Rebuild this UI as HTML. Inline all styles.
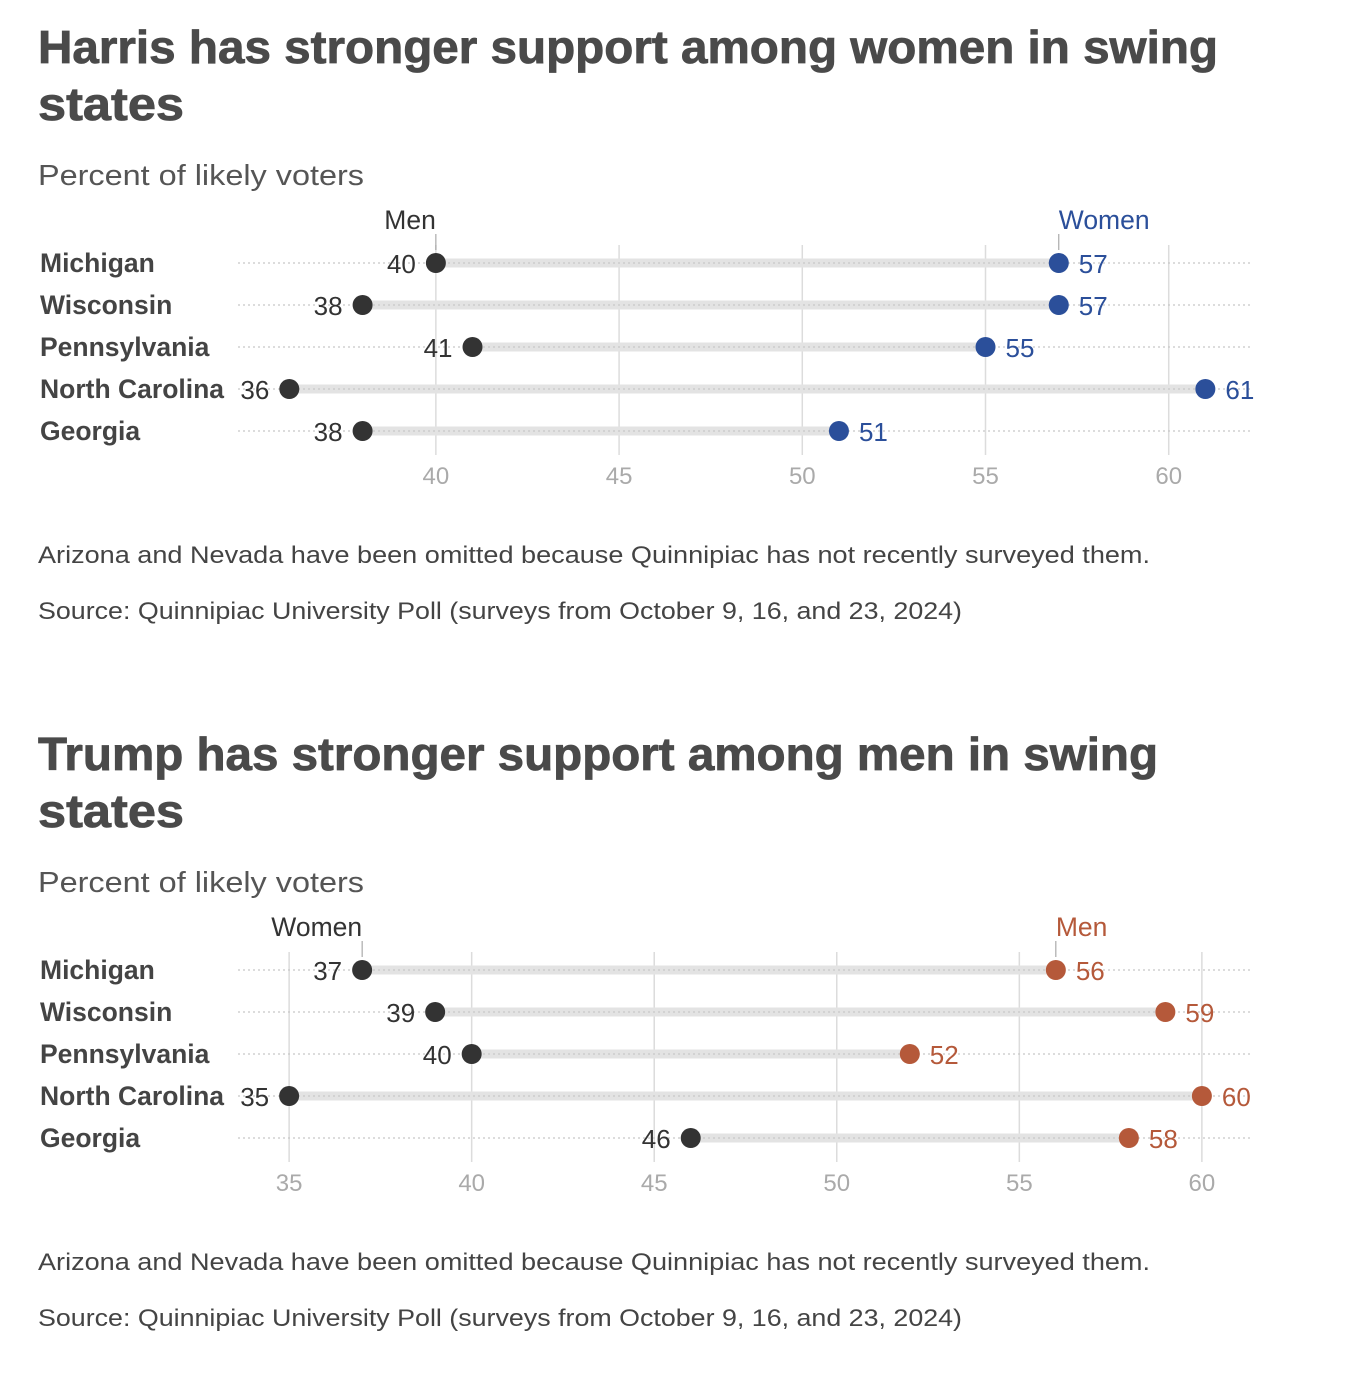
<!DOCTYPE html>
<html><head><meta charset="utf-8"><style>
html,body{margin:0;padding:0;background:#fff;}
svg{display:block;font-family:"Liberation Sans",sans-serif;}
</style></head><body>
<svg id="s" width="1365" height="1380" viewBox="0 0 1365 1380" xmlns="http://www.w3.org/2000/svg">
<g fill="#4a4a4a">
<text x="38" y="63" font-size="46" font-weight="bold" stroke="#4a4a4a" stroke-width="0.8" textLength="1180" lengthAdjust="spacingAndGlyphs">Harris has stronger support among women in swing</text>
<text x="38" y="120" font-size="46" font-weight="bold" stroke="#4a4a4a" stroke-width="0.8" textLength="146" lengthAdjust="spacingAndGlyphs">states</text>
<text x="38" y="185" font-size="29" fill="#555" textLength="326" lengthAdjust="spacingAndGlyphs">Percent of likely voters</text>
</g>
<g fill="#4a4a4a">
<text x="38" y="770" font-size="46" font-weight="bold" stroke="#4a4a4a" stroke-width="0.8" textLength="1120" lengthAdjust="spacingAndGlyphs">Trump has stronger support among men in swing</text>
<text x="38" y="827" font-size="46" font-weight="bold" stroke="#4a4a4a" stroke-width="0.8" textLength="146" lengthAdjust="spacingAndGlyphs">states</text>
<text x="38" y="892" font-size="29" fill="#555" textLength="326" lengthAdjust="spacingAndGlyphs">Percent of likely voters</text>
</g>
<g fill="#444" font-size="24">
<text x="38" y="563" textLength="1112" lengthAdjust="spacingAndGlyphs">Arizona and Nevada have been omitted because Quinnipiac has not recently surveyed them.</text>
<text x="38" y="619" textLength="924" lengthAdjust="spacingAndGlyphs">Source: Quinnipiac University Poll (surveys from October 9, 16, and 23, 2024)</text>
<text x="38" y="1270" textLength="1112" lengthAdjust="spacingAndGlyphs">Arizona and Nevada have been omitted because Quinnipiac has not recently surveyed them.</text>
<text x="38" y="1326" textLength="924" lengthAdjust="spacingAndGlyphs">Source: Quinnipiac University Poll (surveys from October 9, 16, and 23, 2024)</text>
</g>
</svg>
<script>
const states = ["Michigan","Wisconsin","Pennsylvania","North Carolina","Georgia"];
const harrisMen = [40,38,41,36,38];
const harrisWomen = [57,57,55,61,51];
const harrisTicks = [40,45,50,55,60];
const trumpWomen = [37,39,40,35,46];
const trumpMen = [56,59,52,60,58];
const trumpTicks = [35,40,45,50,55,60];

const NS = "http://www.w3.org/2000/svg";
const svg = document.getElementById('s');
function mk(tag, attrs, parent, txt){
  const e = document.createElementNS(NS, tag);
  for (const k in attrs) e.setAttribute(k, attrs[k]);
  if (txt !== undefined) e.textContent = txt;
  parent.appendChild(e);
  return e;
}
function chart(prefix, dy, lowVals, highVals, ticks, x0val, x1val, lowName, highName, highColor){
  const xs = v => 238 + (v - x0val) / (x1val - x0val) * (1253 - 238);
  const g = mk('g', {}, svg);
  
  
  const ys = i => 263 + dy + i * 42;
  ticks.forEach(t => {
    const l = mk('line', {x1: xs(t), x2: xs(t), y1: 245 + dy, y2: 455 + dy, stroke: '#dcdcdc', 'stroke-width': 1.5}, g);
    
    
    const tl = mk('text', {x: xs(t), y: 484 + dy, 'text-anchor': 'middle', 'font-size': 24, fill: '#aaa'}, g, String(t));
    
    
  });
  states.forEach((s, i) => {
    const y = ys(i);
    const lab = mk('text', {x: 40, y: y + 9, 'font-size': 26.5, 'font-weight': 'bold', fill: '#444'}, g, s);
    
    
    const bar = mk('line', {x1: xs(lowVals[i]), x2: xs(highVals[i]), y1: y, y2: y, stroke: '#e3e3e3', 'stroke-width': 9}, g);
    
    
    const dl = mk('line', {x1: 238, x2: 1253, y1: y, y2: y, stroke: '#c8c8c8', 'stroke-width': 1.2, 'stroke-dasharray': '2 3'}, g);
    
    
    const c1 = mk('circle', {cx: xs(lowVals[i]), cy: y, r: 10, fill: '#333'}, g);
    
    
    const c2 = mk('circle', {cx: xs(highVals[i]), cy: y, r: 10, fill: highColor}, g);
    
    
    const v1 = mk('text', {x: xs(lowVals[i]) - 20, y: y + 10, 'text-anchor': 'end', 'font-size': 26, fill: '#333'}, g, String(lowVals[i]));
    
    
    const v2 = mk('text', {x: xs(highVals[i]) + 20, y: y + 10, 'font-size': 26, fill: highColor}, g, String(highVals[i]));
    
    
  });
  const lx = xs(lowVals[0]), hx = xs(highVals[0]);
  const t1 = mk('line', {x1: lx, x2: lx, y1: 234 + dy, y2: 250 + dy, stroke: '#999', 'stroke-width': 1}, g);
  
  
  const t2 = mk('line', {x1: hx, x2: hx, y1: 234 + dy, y2: 250 + dy, stroke: '#999', 'stroke-width': 1}, g);
  
  
  const L1 = mk('text', {x: lx, y: 229 + dy, 'text-anchor': 'end', 'font-size': 26.5, fill: '#333'}, g, lowName);
  
  
  const L2 = mk('text', {x: hx, y: 229 + dy, 'font-size': 26.5, fill: highColor}, g, highName);
  
  
}
chart('harris', 0, harrisMen, harrisWomen, harrisTicks, 34.6, 62.3, 'Men', 'Women', '#2b4f9a');
chart('trump', 707, trumpWomen, trumpMen, trumpTicks, 33.6, 61.4, 'Women', 'Men', '#b5593a');
</script>
</body></html>
